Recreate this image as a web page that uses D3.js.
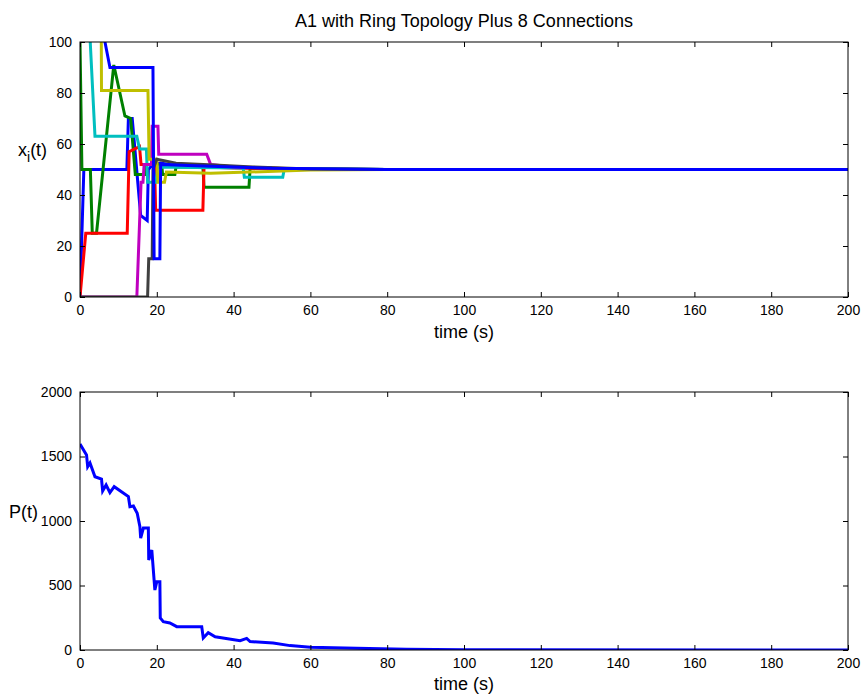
<!DOCTYPE html>
<html lang="en">
<head>
<meta charset="utf-8">
<title>A1 Ring Topology</title>
<script src="https://d3js.org/d3.v7.min.js"></script>
<style>
  body { margin: 0; background: #fff; }
  svg text { font-family: "Liberation Sans", Arial, sans-serif; fill: #000; }
</style>
</head>
<body>
<div id="chart"></div>
<script>
// agents' states x_i(t): [time, value]
const agent1 = [[0,0],[1,50],[12.2,50],[12.6,70],[13.6,70],[15.8,32],[17.5,30],[17.8,50],[19,52],[21,52.5],[25,51.5],[35,51],[45,50.6],[60,50.2],[80,50],[200,50]];
const agent2 = [[0,100],[0.5,50],[2.7,50],[3.2,25],[4.3,25],[8.8,91],[11.7,71],[13.2,70],[14.4,48],[17,48],[17.3,52],[21.3,52],[21.5,48],[24.7,48],[25,51],[32,51],[32.3,43],[44,43],[44.3,50.5],[60,50.3],[80,50],[200,50]];
const agent3 = [[0,0],[1.5,25],[12.3,25],[12.8,57],[15.5,59],[15.9,52],[19.4,52],[19.7,34],[32,34],[32.3,51],[40,50.6],[60,50.1],[80,50],[200,50]];
const agent4 = [[0,150],[2.5,105],[3.9,63],[14.8,63],[15.5,58],[17.3,58],[17.6,45],[19.8,45],[20.2,51],[30,50.8],[42.5,50.6],[42.8,47],[52.8,47],[53.2,50.3],[70,50.1],[80,50],[200,50]];
const agent5 = [[0,0],[14.8,0],[15.9,45],[16.4,45],[16.7,52],[18.6,52],[18.8,67],[20.3,67],[20.5,56],[33,56],[34,52],[40,51],[60,50.1],[80,50],[200,50]];
const agent6 = [[0,115],[5.5,115],[5.6,81],[17.7,81],[18,54],[20,54],[20.3,45],[22,45],[22.5,49],[34,48.5],[44,49],[60,49.8],[80,50],[200,50]];
const agent7 = [[0,0],[17.6,0],[17.9,15],[18.8,15],[19,50],[20,54],[25,52.5],[35,51.8],[45,51],[60,50.2],[80,50],[200,50]];
const agent8 = [[0,140],[6.5,100],[7.8,90],[19,90],[19.3,15],[20.8,15],[21,52],[30,51.5],[50,50.5],[80,50],[200,50]];
const agents = [agent1, agent2, agent3, agent4, agent5, agent6, agent7, agent8];
const agentColors = ["#0000ff", "#008000", "#ff0000", "#00bfbf", "#bf00bf", "#bfbf00", "#404040", "#0000ff"];

// P(t): [time, value]
const pData = [[0,1597],[1.7,1512],[2,1421],[2.6,1450],[3.9,1343],[5.6,1325],[5.9,1233],[6.8,1279],[7.8,1220],[8.9,1266],[12.6,1189],[13,1111],[13.9,1116],[14.9,1060],[15.6,956],[15.8,868],[16.5,945],[17.8,945],[17.9,697],[18.7,775],[19.5,465],[20,530],[20.8,530],[20.9,248],[21.7,220],[23.4,209],[25.2,181],[27.8,181],[31.7,181],[32.1,93],[33.4,134],[35.2,103],[41.7,72],[43.4,90],[44.3,65],[50.3,54],[54.7,34],[60,21],[72,13],[85,6],[100,2],[200,0]];

const xTicks = [0, 20, 40, 60, 80, 100, 120, 140, 160, 180, 200];
const yTicksTop = [0, 20, 40, 60, 80, 100];
const yTicksBottom = [0, 500, 1000, 1500, 2000];

const W = 865, H = 700;
const left = 80, right = 848;

const svg = d3.select("#chart").append("svg")
  .attr("width", W).attr("height", H);

function drawPanel(top, bottom, yDomain, yTicks, series, colors, id) {
  const x = d3.scaleLinear().domain([0, 200]).range([left, right]);
  const y = d3.scaleLinear().domain(yDomain).range([bottom, top]);

  svg.append("clipPath").attr("id", id)
    .append("rect").attr("x", left).attr("y", top)
    .attr("width", right - left).attr("height", bottom - top);

  const line = d3.line().x(d => x(d[0])).y(d => y(d[1]));
  const g = svg.append("g").attr("clip-path", `url(#${id})`);
  series.forEach((s, i) => {
    g.append("path").datum(s)
      .attr("d", line)
      .attr("fill", "none")
      .attr("stroke", colors[i])
      .attr("stroke-width", 3)
      .attr("stroke-linejoin", "miter");
  });

  // axes, ticks inside like matlab
  const tl = 5;
  svg.append("g").attr("transform", `translate(0,${bottom})`)
    .call(d3.axisBottom(x).tickValues(xTicks).tickSizeInner(-tl).tickSizeOuter(0).tickPadding(8).tickFormat(d3.format("d")))
    .call(a => a.select(".domain").remove());
  svg.append("g").attr("transform", `translate(0,${top})`)
    .call(d3.axisTop(x).tickValues(xTicks).tickSizeInner(-tl).tickSizeOuter(0).tickFormat(""))
    .call(a => a.select(".domain").remove());
  svg.append("g").attr("transform", `translate(${left},0)`)
    .call(d3.axisLeft(y).tickValues(yTicks).tickSizeInner(-tl).tickSizeOuter(0).tickPadding(8).tickFormat(d3.format("d")))
    .call(a => a.select(".domain").remove());
  svg.append("g").attr("transform", `translate(${right},0)`)
    .call(d3.axisRight(y).tickValues(yTicks).tickSizeInner(-tl).tickSizeOuter(0).tickFormat(""))
    .call(a => a.select(".domain").remove());

  svg.selectAll(".tick text").attr("font-size", 14).attr("fill", "#000");
  svg.selectAll(".tick line").attr("stroke", "#000");

  svg.append("rect")
    .attr("x", left).attr("y", top)
    .attr("width", right - left).attr("height", bottom - top)
    .attr("fill", "none").attr("stroke", "#000").attr("stroke-width", 1);
}

drawPanel(42, 297, [0, 100], yTicksTop, agents, agentColors, "clipTop");
drawPanel(392, 650, [0, 2000], yTicksBottom, [pData], ["#0000ff"], "clipBottom");

// titles & labels
svg.append("text").attr("x", 464).attr("y", 27)
  .attr("text-anchor", "middle").attr("font-size", 18)
  .text("A1 with Ring Topology Plus 8 Connections");

svg.append("text").attr("x", 464).attr("y", 338)
  .attr("text-anchor", "middle").attr("font-size", 18)
  .text("time (s)");
svg.append("text").attr("x", 464).attr("y", 690)
  .attr("text-anchor", "middle").attr("font-size", 18)
  .text("time (s)");

const xl = svg.append("text").attr("x", 18).attr("y", 156).attr("font-size", 18);
xl.append("tspan").text("x");
xl.append("tspan").attr("dy", 6).attr("font-size", 14).text("i");
xl.append("tspan").attr("dy", -6).text("(t)");

svg.append("text").attr("x", 9).attr("y", 518).attr("font-size", 18).text("P(t)");
</script>
</body>
</html>
